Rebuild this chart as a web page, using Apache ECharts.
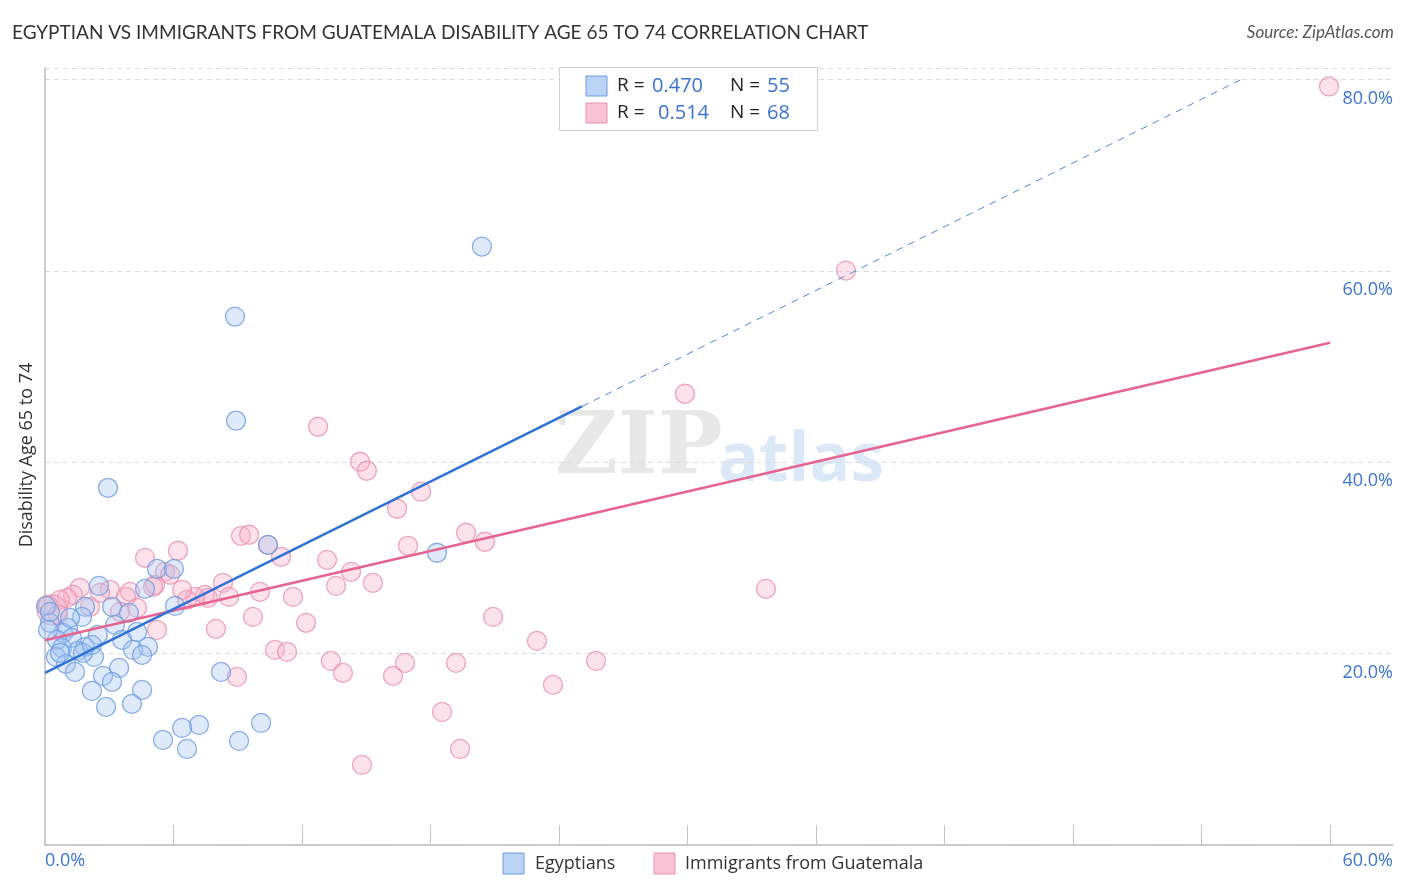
<!DOCTYPE html>
<html><head><meta charset="utf-8">
<script src="https://cdn.jsdelivr.net/npm/echarts@6/dist/echarts.min.js"></script>
<style>html,body{margin:0;padding:0;background:#fff}#c{width:1406px;height:892px}</style></head>
<body><div id="c"></div>
<script>
const egyptX = [20.40,8.87,8.92,2.94,18.30,10.41,5.23,6.02,2.52,4.67,1.87,3.13,3.92,6.07,0.05,1.73,3.27,0.23,1.07,2.47,4.30,3.60,0.84,1.26,0.56,4.81,1.87,0.79,1.54,4.11,4.53,0.51,2.29,1.77,0.98,3.46,1.40,8.22,2.71,3.13,4.53,2.19,2.85,4.06,10.09,7.19,6.40,5.51,9.06,6.63,0.23,0.70,1.17,2.19,0.14];
const egyptY = [62.54,55.22,44.34,37.33,30.54,31.37,28.86,28.86,27.08,26.77,24.89,24.89,24.26,24.99,24.99,23.84,23.01,23.22,22.69,21.96,22.27,21.44,22.17,21.65,21.44,20.71,20.71,20.60,20.29,20.39,19.87,19.66,19.66,20.08,18.93,18.51,18.09,18.09,17.67,17.05,16.21,16.10,14.43,14.75,12.76,12.55,12.24,10.98,10.88,10.04,24.37,20.08,23.74,20.92,22.48];
const guatX = [59.95,37.40,29.88,12.75,14.71,15.03,17.56,16.44,19.66,20.54,16.95,9.15,9.53,10.41,11.02,6.21,13.17,13.59,14.29,15.31,11.58,10.04,8.31,8.59,7.47,7.61,7.00,6.63,6.40,5.60,5.14,5.23,7.98,9.71,12.19,10.74,11.30,13.35,13.91,8.96,4.67,1.63,1.31,1.03,0.70,3.03,2.57,3.97,5.04,5.84,0.33,2.10,4.30,20.92,22.97,25.73,23.72,16.25,16.81,19.19,18.54,19.38,14.80,33.66,3.78,0.14,0.61,3.50];
const guatY = [79.27,60.03,47.16,43.71,40.05,39.11,36.92,35.14,32.63,31.69,31.27,32.31,32.42,31.37,30.12,30.75,29.80,27.08,28.55,27.40,25.93,26.46,27.40,25.93,26.14,25.83,25.93,25.62,26.67,28.55,27.19,22.48,22.59,23.84,23.22,20.39,20.18,19.24,17.99,17.57,30.01,26.88,26.14,25.83,25.62,26.67,26.35,26.46,26.98,28.24,24.58,24.89,24.78,23.84,21.33,19.24,16.73,17.67,19.03,19.03,13.91,10.04,8.37,26.77,25.93,25.10,24.05,24.37];
// indices of larger markers
const egyptBig = [];
const guatBig = [50];
const seriesNames = ['Egyptians', 'Immigrants from Guatemala'];
const statsR = ['0.470', '0.514'];
const statsN = ['55', '68'];
const blueTrend = [18.0, 1.11, 25.07, 80]; // intercept, slope, end of solid part, end y of dashed part
const pinkTrend = [21.4, 0.518];
const xTicks = [0, 6, 12, 18, 24, 30, 36, 42, 48, 54, 60];
const yTicks = [0, 20, 40, 60, 80];

const X_MAX = 62.94, Y_MAX = 81.2;
const BLUE = '#2f72d6', PINK = '#e6648f';

function pts(xs, ys, big) {
  return xs.map((x, i) => ({ value: [x, ys[i]], symbolSize: big.includes(i) ? 30 : 19 }));
}
const blueDashEnd = (blueTrend[3] - blueTrend[0]) / blueTrend[1];

const chart = echarts.init(document.getElementById('c'));
chart.setOption({
  animation: false,
  grid: { left: 45, right: 13, top: 68, bottom: 47 },
  xAxis: {
    type: 'value', min: 0, max: X_MAX, interval: 6,
    axisLine: { show: true, lineStyle: { color: '#bdbdbd', width: 1.5 } },
    axisTick: { show: true, inside: true, length: 20, lineStyle: { color: '#c4c4c4' },
      customValues: xTicks.slice(1) },
    axisLabel: { show: false },
    splitLine: { show: false }
  },
  yAxis: [{
    type: 'value', min: 0, max: Y_MAX, position: 'left',
    axisLine: { show: true, lineStyle: { color: '#bdbdbd', width: 1.5 } },
    axisTick: { show: false }, axisLabel: { show: false }, splitLine: { show: false }
  }, {
    type: 'value', min: 0, max: Y_MAX, interval: 20, position: 'right',
    axisLine: { show: false }, axisTick: { show: false },
    axisLabel: { inside: true, margin: 0, verticalAlign: 'top', padding: [10, 0, 0, 0],
      color: '#3b74cf', fontSize: 18, fontFamily: 'Open Sans',
      formatter: v => (yTicks.includes(v) && v > 0) ? v.toFixed(1) + '%' : '' },
    splitLine: { show: true, lineStyle: { color: '#dcdcdc', type: [5, 4], width: 1 } }
  }],
  series: [
    { name: seriesNames[1], type: 'scatter', data: pts(guatX, guatY, guatBig), z: 2,
      itemStyle: { color: 'rgba(246,176,199,0.45)', borderColor: '#e891ae', borderWidth: 1.3 } },
    { name: seriesNames[0], type: 'scatter', data: pts(egyptX, egyptY, egyptBig), z: 3,
      itemStyle: { color: 'rgba(164,196,240,0.45)', borderColor: '#6c9be0', borderWidth: 1.3 } },
    { type: 'line', z: 5, symbol: 'none', silent: true,
      data: [[0, blueTrend[0]], [blueTrend[2], blueTrend[0] + blueTrend[1] * blueTrend[2]]],
      lineStyle: { color: BLUE, width: 2.5 } },
    { type: 'line', z: 5, symbol: 'none', silent: true,
      data: [[blueTrend[2], blueTrend[0] + blueTrend[1] * blueTrend[2]], [blueDashEnd, blueTrend[3]]],
      lineStyle: { color: '#4f86d6', width: 1, type: [7, 6] } },
    { type: 'line', z: 4, symbol: 'none', silent: true,
      data: [[0, pinkTrend[0]], [60, pinkTrend[0] + pinkTrend[1] * 60]],
      lineStyle: { color: PINK, width: 2.5 } }
  ],
  graphic: [
    { type: 'text', left: 12, top: 23, style: { text: 'EGYPTIAN VS IMMIGRANTS FROM GUATEMALA DISABILITY AGE 65 TO 74 CORRELATION CHART', fill: '#333', font: '19px Lato' } },
    { type: 'text', right: 12, top: 24, style: { text: 'Source: ZipAtlas.com', fill: '#555', font: 'italic 17px Lato' } },
    { type: 'text', left: 555, top: 408, z: 0, style: { text: 'ZIP', fill: 'rgba(190,190,190,0.35)', font: 'bold 86px "DejaVu Serif"' } },
    { type: 'text', left: 718, top: 428, z: 0, style: { text: 'atlas', fill: 'rgba(150,190,235,0.35)', font: 'bold 68px "Open Sans"' } },
    { type: 'text', x: 27, y: 455, rotation: Math.PI / 2, style: { text: 'Disability Age 65 to 74', fill: '#333', font: '18px "Open Sans"', align: 'center', verticalAlign: 'middle' } },
    { type: 'text', left: 45, top: 852, style: { text: '0.0%', fill: '#3b74cf', font: '18px "Open Sans"' } },
    { type: 'text', right: 13, top: 852, style: { text: '60.0%', fill: '#3b74cf', font: '18px "Open Sans"' } },
    // top legend box
    { type: 'rect', shape: { x: 559.5, y: 67.5, width: 258, height: 63 }, style: { fill: '#fff', stroke: '#d0d0d0', lineWidth: 1 }, z: 10 },
    { type: 'rect', shape: { x: 586, y: 76, width: 21, height: 20 }, style: { fill: 'rgba(164,196,240,0.75)', stroke: '#6c9be0', lineWidth: 1 }, z: 11 },
    { type: 'rect', shape: { x: 586, y: 103, width: 21, height: 20 }, style: { fill: 'rgba(246,176,199,0.75)', stroke: '#e891ae', lineWidth: 1 }, z: 11 },
    { type: 'text', x: 617, y: 86, z: 11, style: { text: 'R = ', fill: '#222', font: '19px "Open Sans"', verticalAlign: 'middle' } },
    { type: 'text', x: 652, y: 86, z: 11, style: { text: statsR[0], fill: '#3b74cf', font: '20px "Open Sans"', verticalAlign: 'middle' } },
    { type: 'text', x: 730, y: 86, z: 11, style: { text: 'N = ', fill: '#222', font: '19px "Open Sans"', verticalAlign: 'middle' } },
    { type: 'text', x: 767, y: 86, z: 11, style: { text: statsN[0], fill: '#3b74cf', font: '20px "Open Sans"', verticalAlign: 'middle' } },
    { type: 'text', x: 617, y: 113, z: 11, style: { text: 'R = ', fill: '#222', font: '19px "Open Sans"', verticalAlign: 'middle' } },
    { type: 'text', x: 658, y: 113, z: 11, style: { text: statsR[1], fill: '#3b74cf', font: '20px "Open Sans"', verticalAlign: 'middle' } },
    { type: 'text', x: 730, y: 113, z: 11, style: { text: 'N = ', fill: '#222', font: '19px "Open Sans"', verticalAlign: 'middle' } },
    { type: 'text', x: 767, y: 113, z: 11, style: { text: statsN[1], fill: '#3b74cf', font: '20px "Open Sans"', verticalAlign: 'middle' } },
    // bottom legend
    { type: 'rect', shape: { x: 503, y: 853, width: 21, height: 21 }, style: { fill: 'rgba(164,196,240,0.75)', stroke: '#6c9be0', lineWidth: 1 } },
    { type: 'text', x: 535, y: 864, style: { text: seriesNames[0], fill: '#333', font: '18px "Open Sans"', verticalAlign: 'middle' } },
    { type: 'rect', shape: { x: 654, y: 853, width: 21, height: 21 }, style: { fill: 'rgba(246,176,199,0.75)', stroke: '#e891ae', lineWidth: 1 } },
    { type: 'text', x: 685, y: 864, style: { text: seriesNames[1], fill: '#333', font: '18px "Open Sans"', verticalAlign: 'middle' } }
  ]
});
</script></body></html>
